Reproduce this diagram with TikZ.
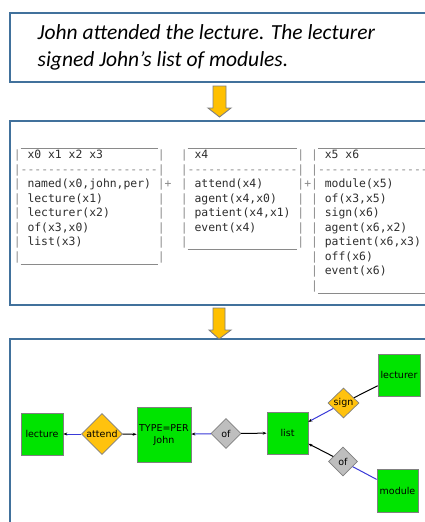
\documentclass[tikz,border=0pt]{standalone}
\usepackage{fontspec}
\setmainfont{Carlito}
\newfontfamily\drsfont{DejaVu Sans Mono}
\newfontfamily\grfont{DejaVu Sans}
\usetikzlibrary{shapes.geometric,arrows.meta}

\definecolor{frame}{HTML}{41719C}
\definecolor{arrowfill}{HTML}{FFC000}
\definecolor{arrowedge}{HTML}{7F7F7F}
\definecolor{entity}{HTML}{00E400}
\definecolor{relorange}{HTML}{FFC20E}
\definecolor{relgray}{HTML}{BEBEBE}
\definecolor{nodeedge}{HTML}{808080}
\definecolor{edgeblue}{HTML}{3A3AD8}
\definecolor{drsline}{HTML}{8A8A8A}
\definecolor{drstext}{HTML}{2E2E2E}

% one character cell of the box notation
\newlength\cw
\setlength\cw{6.86pt}
\newcommand\bv{\strut\textcolor{drsline}{|}}
\newcommand\plusmark{\textcolor{drsline}{+}}
\newcommand\fld[2]{\makebox[#1\cw][l]{\hspace*{\cw}#2}}
\newcommand\hrow[1]{\textcolor{drsline}{\rule[-4pt]{#1\cw}{0.7pt}}}
\newcommand\dashrow[1]{\textcolor{drsline}{\makebox[#1\cw]{\xleaders\hbox to \cw{\hss-\hss}\hfill}}}

\tikzset{
  panel/.style={draw=frame, line width=1.5pt},
  blockarrow/.style={fill=arrowfill, draw=arrowedge, line width=0.9pt, line join=miter},
  sentence/.style={anchor=base west, inner sep=0pt, font=\itshape\fontsize{21.5}{27}\selectfont},
  drs/.style={anchor=north west, inner sep=0pt, align=left, text=drstext,
    font=\drsfont\fontsize{11.4}{14.5}\selectfont},
  ent/.style={draw=nodeedge, fill=entity, line width=0.7pt, inner sep=0pt,
    minimum width=42pt, minimum height=42pt, align=center,
    font=\grfont\fontsize{9.5}{12}\selectfont},
  rel/.style={diamond, draw=nodeedge, line width=0.7pt, inner sep=0pt,
    minimum width=30pt, minimum height=30pt,
    font=\grfont\fontsize{9.5}{12}\selectfont},
  tip/.style={-{Stealth[length=4pt,width=3pt,color=black]}},
  blueedge/.style={draw=edgeblue, line width=1pt},
  blackedge/.style={draw=black, line width=1pt},
}

\begin{document}
\begin{tikzpicture}[x=1pt, y=-1pt]
\useasboundingbox (0,0) rectangle (425,522);
\fill[white] (0,0) rectangle (425,522);

% three panels
\draw[panel] (10,13) rectangle (440,82);
\draw[panel] (10,121) rectangle (440,305);
\draw[panel] (10,339) rectangle (440,540);

% sentence
\node[sentence] (line1) at (37.5,39.5) {John attended the lecture. The lecturer};
\node[sentence] (line2) at (37.5,66) {signed John’s list of modules.};

% step arrows
\draw[blockarrow] (213,86) -- (226,86) -- (226,108) -- (231,108) -- (219.5,117)
  -- (208,108) -- (213,108) -- cycle;
\draw[blockarrow] (213,308) -- (225,308) -- (225,330) -- (231,330) -- (219,339)
  -- (209,330) -- (213,330) -- cycle;

% boxes of the merged representation
\node[drs] (boxA) at (13.6,133.85) {%
\strut\hspace*{\cw}\hrow{20}\\
\bv\fld{20}{x0 x1 x2 x3}\bv\\
\bv\dashrow{20}\bv\\
\bv\fld{20}{named(x0,john,per)}\bv\plusmark\\
\bv\fld{20}{lecture(x1)}\bv\\
\bv\fld{20}{lecturer(x2)}\bv\\
\bv\fld{20}{of(x3,x0)}\bv\\
\bv\fld{20}{list(x3)}\bv\\
\bv\hrow{20}\bv};

\node[drs] (boxBC) at (180.6,133.85) {%
\strut\hspace*{\cw}\hrow{16}\hspace*{3\cw}\hrow{24}\\
\bv\fld{16}{x4}\bv\hspace*{\cw}\bv\fld{24}{x5 x6}\\
\bv\dashrow{16}\bv\hspace*{\cw}\bv\dashrow{24}\\
\bv\fld{16}{attend(x4)}\bv\plusmark\bv\fld{24}{module(x5)}\\
\bv\fld{16}{agent(x4,x0)}\bv\hspace*{\cw}\bv\fld{24}{of(x3,x5)}\\
\bv\fld{16}{patient(x4,x1)}\bv\hspace*{\cw}\bv\fld{24}{sign(x6)}\\
\bv\fld{16}{event(x4)}\bv\hspace*{\cw}\bv\fld{24}{agent(x6,x2)}\\
\bv\hrow{16}\bv\hspace*{\cw}\bv\fld{24}{patient(x6,x3)}\\
\hspace*{19\cw}\bv\fld{24}{off(x6)}\\
\hspace*{19\cw}\bv\fld{24}{event(x6)}\\
\hspace*{19\cw}\bv\hrow{24}};

% graph
\node[ent] (lecture) at (42,434) {lecture};
\node[rel, fill=relorange, minimum width=41pt, minimum height=41pt] (attend) at (102,434) {};
\node[font=\grfont\fontsize{9.5}{12}\selectfont, inner sep=0pt] (attendlbl) at (attend.center) {attend};
\node[ent, minimum width=54pt, minimum height=55pt] (john) at (164,434.5) {TYPE=PER\\John};
\node[rel, fill=relgray] (of1) at (226,433.5) {of};
\node[ent, minimum width=41pt] (list) at (287.5,433) {list};
\node[rel, fill=relorange, minimum width=31pt] (sign) at (343.5,403) {sign};
\node[ent] (lecturer) at (399,375) {lecturer};
\node[rel, fill=relgray, minimum width=29pt, minimum height=29pt] (of2) at (343,461.5) {of};
\node[ent, minimum width=41pt, minimum height=43pt] (module) at (397.5,490.5) {module};

\draw[blueedge, tip] (attend) -- (lecture);
\draw[blackedge, tip] (attend) -- (john);
\draw[blueedge, tip] (of1) -- (john);
\draw[blackedge, tip] (of1) -- (list);
\draw[blueedge, tip] (sign) -- (list);
\draw[blackedge] (sign) -- (lecturer);
\draw[blackedge, tip] (of2) -- (list);
\draw[blueedge] (of2) -- (module);
\end{tikzpicture}
\end{document}
